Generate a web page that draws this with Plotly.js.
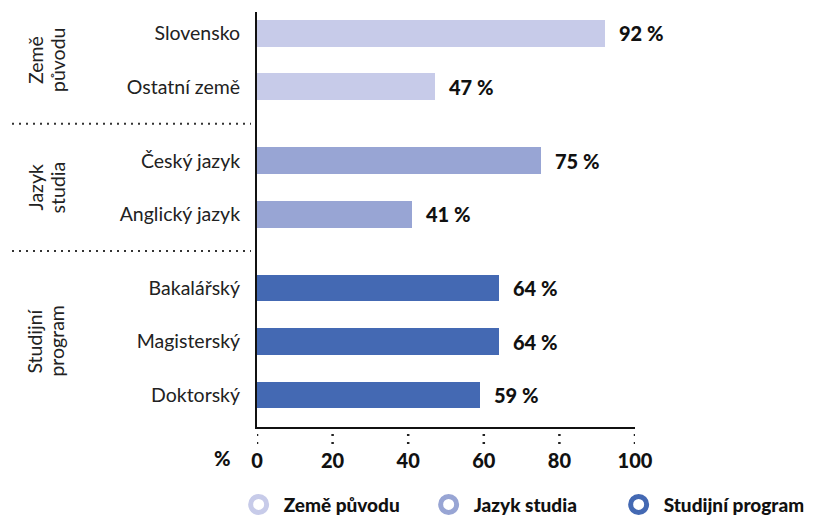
<!DOCTYPE html>
<html>
<head>
<meta charset="utf-8">
<script src="https://cdn.plot.ly/plotly-3.0.1.min.js"></script>
<style>html,body{margin:0;padding:0;background:#fff;}#chart{width:825px;height:517px;}</style>
</head>
<body>
<div id="chart"></div>
<script>
const categories = ['Slovensko', 'Ostatní země', 'Český jazyk', 'Anglický jazyk', 'Bakalářský', 'Magisterský', 'Doktorský'];
const values = [92, 47, 75, 41, 64, 64, 59];
const groupOf = [0, 0, 1, 1, 2, 2, 2];
const groupNames = ['Země původu', 'Jazyk studia', 'Studijní program'];
const groupLabelLines = [['Země', 'původu'], ['Jazyk', 'studia'], ['Studijní', 'program']];
const colors = ['#c7cbe9', '#98a5d4', '#4469b3'];
const xTicks = [0, 20, 40, 60, 80, 100];

const GAP = 0.383;
const pos = categories.map((c, i) => i + groupOf[i] * GAP);

const REG = 'Lato, "Open Sans", sans-serif';
const traces = [];
groupNames.forEach((g, gi) => {
  const idx = categories.map((c, i) => i).filter(i => groupOf[i] === gi);
  traces.push({
    type: 'bar', orientation: 'h',
    x: idx.map(i => values[i]), y: idx.map(i => pos[i]),
    width: 0.5, marker: {color: colors[gi]},
    showlegend: false, hoverinfo: 'skip'
  });
});
groupNames.forEach((g, gi) => {
  traces.push({
    type: 'scatter', mode: 'markers', x: [null], y: [null], name: g,
    marker: {symbol: 'circle-open', size: 16, color: colors[gi], line: {width: 5, color: colors[gi]}},
    showlegend: true
  });
});

const annotations = [];
categories.forEach((c, i) => {
  annotations.push({
    x: values[i], y: pos[i], xref: 'x', yref: 'y', text: values[i] + ' %',
    showarrow: false, xanchor: 'left', yanchor: 'middle', xshift: 12,
    font: {family: REG, size: 20, color: '#111', weight: 900}
  });
});
groupLabelLines.forEach((lines, gi) => {
  const idx = categories.map((c, i) => i).filter(i => groupOf[i] === gi);
  const yc = (pos[idx[0]] + pos[idx[idx.length - 1]]) / 2;
  lines.forEach((t, li) => {
    annotations.push({
      x: 0, xref: 'paper', y: yc, yref: 'y', text: t, textangle: -90,
      showarrow: false, xanchor: 'center', yanchor: 'middle', xshift: (li === 0 ? 35 : 57) - 257,
      font: {family: REG, size: 19.5, color: '#222'}
    });
  });
});
annotations.push({
  x: 0, xref: 'paper', y: 0, yref: 'paper', text: '%', showarrow: false,
  xanchor: 'center', yanchor: 'middle', xshift: 222 - 257, yshift: -31,
  font: {family: REG, size: 20, color: '#111', weight: 900}
});

const shapes = [];
xTicks.forEach(t => {
  shapes.push({
    type: 'line', xref: 'x', x0: t, x1: t, yref: 'paper', ysizemode: 'pixel', yanchor: 0,
    y0: -7, y1: -18, line: {color: '#222', width: 2.5, dash: '2px,6px'}
  });
});
for (let i = 1; i < categories.length; i++) {
  if (groupOf[i] !== groupOf[i - 1]) {
    const ym = (pos[i] + pos[i - 1]) / 2;
    shapes.push({
      type: 'line', xref: 'paper', xsizemode: 'pixel', xanchor: 0, x0: -245, x1: -6,
      yref: 'y', y0: ym, y1: ym, line: {color: '#333', width: 2, dash: '2px,5px'}
    });
  }
}

const layout = {
  width: 825, height: 517,
  margin: {l: 257, r: 190, t: 12, b: 90, autoexpand: false},
  paper_bgcolor: '#fff', plot_bgcolor: '#fff',
  font: {family: REG, color: '#222'},
  bargap: 0,
  xaxis: {
    range: [0, 100], autorange: false, tickvals: xTicks, ticktext: xTicks.map(String),
    showgrid: false, zeroline: false, showline: true, linecolor: '#111', linewidth: 2,
    ticks: '', ticklabelstandoff: 15, tickfont: {family: REG, size: 20, color: '#111', weight: 900},
    fixedrange: true, automargin: false
  },
  yaxis: {
    range: [7.364, -0.398], autorange: false, tickvals: pos, ticktext: categories,
    showgrid: false, zeroline: false, showline: true, linecolor: '#111', linewidth: 2,
    ticks: '', ticklabelstandoff: 11, tickfont: {family: REG, size: 19.5, color: '#222'},
    fixedrange: true, automargin: false
  },
  showlegend: true,
  legend: {
    orientation: 'h', x: -0.0618, xanchor: 'left', y: -0.187, yanchor: 'middle',
    entrywidth: 135, entrywidthmode: 'pixels', itemwidth: 40,
    font: {family: REG, size: 19, color: '#111', weight: 900},
    bgcolor: 'rgba(0,0,0,0)', borderwidth: 0
  },
  annotations: annotations,
  shapes: shapes
};

Plotly.newPlot('chart', traces, layout, {displayModeBar: false, staticPlot: true});
</script>
</body>
</html>
